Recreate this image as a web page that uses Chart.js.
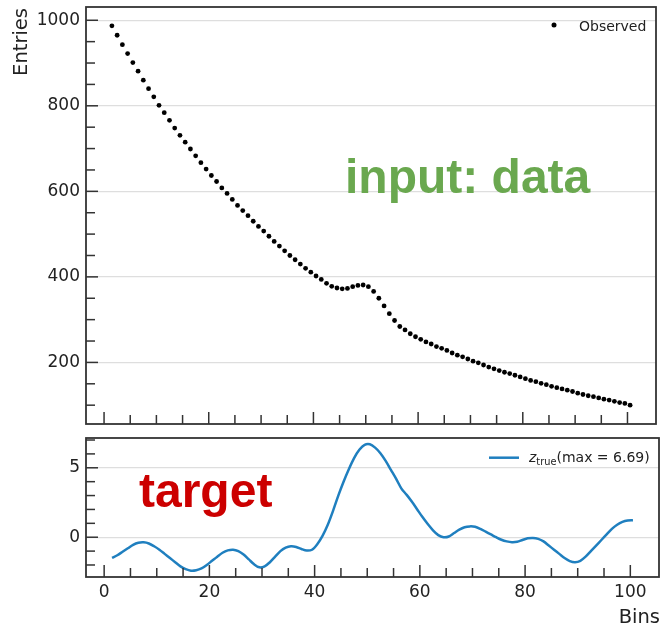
<!DOCTYPE html>
<html>
<head>
<meta charset="utf-8">
<script src="https://cdn.jsdelivr.net/npm/chart.js@4.4.1/dist/chart.umd.min.js"></script>
<style>
  html, body { margin: 0; padding: 0; background: #fff; }
  #wrap { position: relative; width: 660px; height: 624px; overflow: hidden; }
  #topBox { position: absolute; left: 0; top: 0; width: 660px; height: 432px; }
  #botBox { position: absolute; left: 0; top: 432px; width: 660px; height: 192px; }
  .note { position: absolute; font-family: "Liberation Sans", Arial, sans-serif; font-weight: bold;
          font-size: 48px; line-height: 48px; white-space: nowrap; }
</style>
</head>
<body>
<div id="wrap">
  <div id="topBox"><canvas id="topChart"></canvas></div>
  <div id="botBox"><canvas id="botChart"></canvas></div>
  <div class="note" style="left:345px; top:153px; color:#6aa84f;">input: data</div>
  <div class="note" style="left:139px; top:467px; color:#cc0000;">target</div>
</div>
<script>
// bin centres
const bins = [
  1.5, 2.5, 3.5, 4.5, 5.5, 6.5, 7.5, 8.5, 9.5, 10.5,
  11.5, 12.5, 13.5, 14.5, 15.5, 16.5, 17.5, 18.5, 19.5, 20.5,
  21.5, 22.5, 23.5, 24.5, 25.5, 26.5, 27.5, 28.5, 29.5, 30.5,
  31.5, 32.5, 33.5, 34.5, 35.5, 36.5, 37.5, 38.5, 39.5, 40.5,
  41.5, 42.5, 43.5, 44.5, 45.5, 46.5, 47.5, 48.5, 49.5, 50.5,
  51.5, 52.5, 53.5, 54.5, 55.5, 56.5, 57.5, 58.5, 59.5, 60.5,
  61.5, 62.5, 63.5, 64.5, 65.5, 66.5, 67.5, 68.5, 69.5, 70.5,
  71.5, 72.5, 73.5, 74.5, 75.5, 76.5, 77.5, 78.5, 79.5, 80.5,
  81.5, 82.5, 83.5, 84.5, 85.5, 86.5, 87.5, 88.5, 89.5, 90.5,
  91.5, 92.5, 93.5, 94.5, 95.5, 96.5, 97.5, 98.5, 99.5, 100.5
];

// entries per bin (top panel)
const observed = [
  987, 965, 943, 922, 901, 881, 860, 840, 821, 801,
  784, 766, 748, 731, 715, 699, 683, 667, 652, 637,
  623, 608, 595, 581, 567, 555, 543, 530, 518, 507,
  495, 483, 472, 461, 450, 440, 430, 420, 411, 402,
  394, 385, 378, 374, 372, 373, 377, 380, 381, 377,
  366, 350, 332, 314, 298, 284, 276, 267, 260, 254,
  248, 243, 237, 233, 228, 222, 217, 213, 208, 203,
  199, 194, 189, 185, 181, 177, 174, 170, 166, 162,
  158, 155, 151, 148, 144, 141, 138, 135, 132, 128,
  125, 122, 120, 117, 114, 112, 109, 106, 104, 100
];

// z_true per bin (bottom panel)
const zTrue = [
  -1.49, -1.3, -1.05, -0.8, -0.55, -0.4, -0.37, -0.45, -0.65, -0.9,
  -1.2, -1.5, -1.8, -2.1, -2.3, -2.41, -2.38, -2.25, -2.0, -1.7,
  -1.4, -1.12, -0.95, -0.9, -1.0, -1.25, -1.6, -1.95, -2.17, -2.1,
  -1.8, -1.4, -1.0, -0.75, -0.65, -0.7, -0.85, -0.96, -0.9, -0.5,
  0.1, 0.9, 1.9, 3.0, 4.0, 4.9, 5.7, 6.3, 6.65, 6.69,
  6.45, 6.05, 5.5, 4.85, 4.2, 3.5, 3.05, 2.55, 2.0, 1.45,
  0.95, 0.5, 0.15, 0.0, 0.05, 0.3, 0.55, 0.72, 0.78, 0.75,
  0.6, 0.4, 0.2, 0.0, -0.18, -0.3, -0.36, -0.33, -0.2, -0.08,
  -0.05, -0.12, -0.3, -0.6, -0.9, -1.2, -1.5, -1.72, -1.8, -1.7,
  -1.4, -1.0, -0.6, -0.2, 0.2, 0.6, 0.9, 1.1, 1.2, 1.22
];

// ticks
const xMajor = [0, 20, 40, 60, 80, 100];
const xMinor = [5, 10, 15, 25, 30, 35, 45, 50, 55, 65, 70, 75, 85, 90, 95];
const yTopMajor = [200, 400, 600, 800, 1000];
const yTopMinor = [100, 150, 250, 300, 350, 450, 500, 550, 650, 700, 750, 850, 900, 950];
const yBotMajor = [0, 5];
const yBotMinor = [-2, -1, 1, 2, 3, 4, 6, 7];

const AXIS = '#333';
const BLUE = '#1f7fbf';

Chart.defaults.font.family = '"DejaVu Sans", sans-serif';
Chart.defaults.color = '#222';

// fixed axis size, no extra label padding around the plot box
function fixWidth(s) { s.width = 86; s.paddingTop = 0; s.paddingBottom = 0; }
function fixHeight(s) { s.height = 47; s.paddingLeft = 0; s.paddingRight = 0; }
const plainLabel = v => String(v);

// matplotlib-like box with inward ticks
const framePlugin = {
  id: 'frame',
  afterDraw(chart, args, opts) {
    const { ctx, chartArea: a, scales } = chart;
    ctx.save();
    ctx.strokeStyle = AXIS;
    ctx.lineWidth = 1.5;
    const seg = (x1, y1, x2, y2) => { ctx.beginPath(); ctx.moveTo(x1, y1); ctx.lineTo(x2, y2); ctx.stroke(); };
    opts.xMajor.forEach(v => { const x = scales.x.getPixelForValue(v); seg(x, a.bottom, x, a.bottom - 12); });
    opts.xMinor.forEach(v => { const x = scales.x.getPixelForValue(v); seg(x, a.bottom, x, a.bottom - 9); });
    opts.yMajor.forEach(v => { const y = scales.y.getPixelForValue(v); seg(a.left, y, a.left + 12, y); });
    opts.yMinor.forEach(v => { const y = scales.y.getPixelForValue(v); seg(a.left, y, a.left + 9, y); });
    ctx.lineWidth = 1.8;
    ctx.strokeRect(a.left, a.top, a.right - a.left, a.bottom - a.top);
    ctx.restore();
  }
};

const topExtras = {
  id: 'topExtras',
  afterDraw(chart) {
    const { ctx, chartArea: a } = chart;
    ctx.save();
    // legend
    ctx.fillStyle = '#000';
    ctx.beginPath(); ctx.arc(a.right - 102, a.top + 18, 2.5, 0, Math.PI * 2); ctx.fill();
    ctx.fillStyle = '#222';
    ctx.font = '14px "DejaVu Sans"';
    ctx.textBaseline = 'alphabetic';
    ctx.fillText('Observed', a.right - 77, a.top + 23.5);
    // y label
    ctx.translate(27, a.top + 1);
    ctx.rotate(-Math.PI / 2);
    ctx.textAlign = 'right';
    ctx.font = '19.5px "DejaVu Sans"';
    ctx.fillText('Entries', 0, 0);
    ctx.restore();
  }
};

const botExtras = {
  id: 'botExtras',
  afterDraw(chart) {
    const { ctx, chartArea: a } = chart;
    ctx.save();
    // legend
    const ly = a.top + 19.7;
    ctx.strokeStyle = BLUE;
    ctx.lineWidth = 2.5;
    ctx.beginPath(); ctx.moveTo(a.right - 170, ly); ctx.lineTo(a.right - 140, ly); ctx.stroke();
    ctx.fillStyle = '#222';
    ctx.textBaseline = 'alphabetic';
    let x = a.right - 130;
    const base = ly + 4;
    ctx.font = 'italic 14px "DejaVu Sans"';
    ctx.fillText('z', x, base); x += ctx.measureText('z').width;
    ctx.font = '9.8px "DejaVu Sans"';
    ctx.fillText('true', x, base + 2.8); x += ctx.measureText('true').width;
    ctx.font = '14px "DejaVu Sans"';
    ctx.fillText('(max = 6.69)', x, base);
    // x label
    ctx.textAlign = 'right';
    ctx.font = '19.5px "DejaVu Sans"';
    ctx.fillText('Bins', 660, chart.height - 1.5);
    ctx.restore();
  }
};

new Chart(document.getElementById('topChart'), {
  type: 'scatter',
  data: {
    datasets: [{
      label: 'Observed',
      data: bins.map((b, i) => ({ x: b, y: observed[i] })),
      backgroundColor: '#000',
      borderWidth: 0,
      pointRadius: 2.4,
    }]
  },
  options: {
    responsive: true,
    maintainAspectRatio: false,
    animation: false,
    layout: { padding: { left: 0, right: 1, top: 7, bottom: 8 } },
    plugins: {
      legend: { display: false },
      tooltip: { enabled: false },
      frame: { xMajor, xMinor, yMajor: yTopMajor, yMinor: yTopMinor },
    },
    scales: {
      x: { type: 'linear', display: false, min: -3.45, max: 105.45 },
      y: {
        min: 56, max: 1031,
        afterFit: fixWidth,
        afterBuildTicks: s => { s.ticks = yTopMajor.map(v => ({ value: v })); },
        grid: { color: '#dedede', lineWidth: 1.2, drawTicks: false },
        border: { display: false },
        ticks: { font: { size: 17 }, color: '#222', padding: 6, callback: plainLabel },
      },
    },
  },
  plugins: [framePlugin, topExtras],
});

new Chart(document.getElementById('botChart'), {
  type: 'scatter',
  data: {
    datasets: [{
      label: 'z_true',
      data: bins.map((b, i) => ({ x: b, y: zTrue[i] })),
      showLine: true,
      borderColor: BLUE,
      borderWidth: 2.5,
      pointRadius: 0,
      tension: 0.3,
    }]
  },
  options: {
    responsive: true,
    maintainAspectRatio: false,
    animation: false,
    layout: { padding: { left: 0, right: 1, top: 6, bottom: 0 } },
    plugins: {
      legend: { display: false },
      tooltip: { enabled: false },
      frame: { xMajor, xMinor, yMajor: yBotMajor, yMinor: yBotMinor },
    },
    scales: {
      x: {
        type: 'linear', min: -3.45, max: 105.45,
        afterFit: fixHeight,
        afterBuildTicks: s => { s.ticks = xMajor.map(v => ({ value: v })); },
        grid: { display: false, drawTicks: false },
        border: { display: false },
        ticks: { font: { size: 17 }, color: '#222', padding: 5, autoSkip: false, maxRotation: 0, callback: plainLabel },
      },
      y: {
        min: -2.865, max: 7.145,
        afterFit: fixWidth,
        afterBuildTicks: s => { s.ticks = yBotMajor.map(v => ({ value: v })); },
        grid: { color: '#dedede', lineWidth: 1.2, drawTicks: false },
        border: { display: false },
        ticks: { font: { size: 17 }, color: '#222', padding: 6, callback: plainLabel },
      },
    },
  },
  plugins: [framePlugin, botExtras],
});
</script>
</body>
</html>
